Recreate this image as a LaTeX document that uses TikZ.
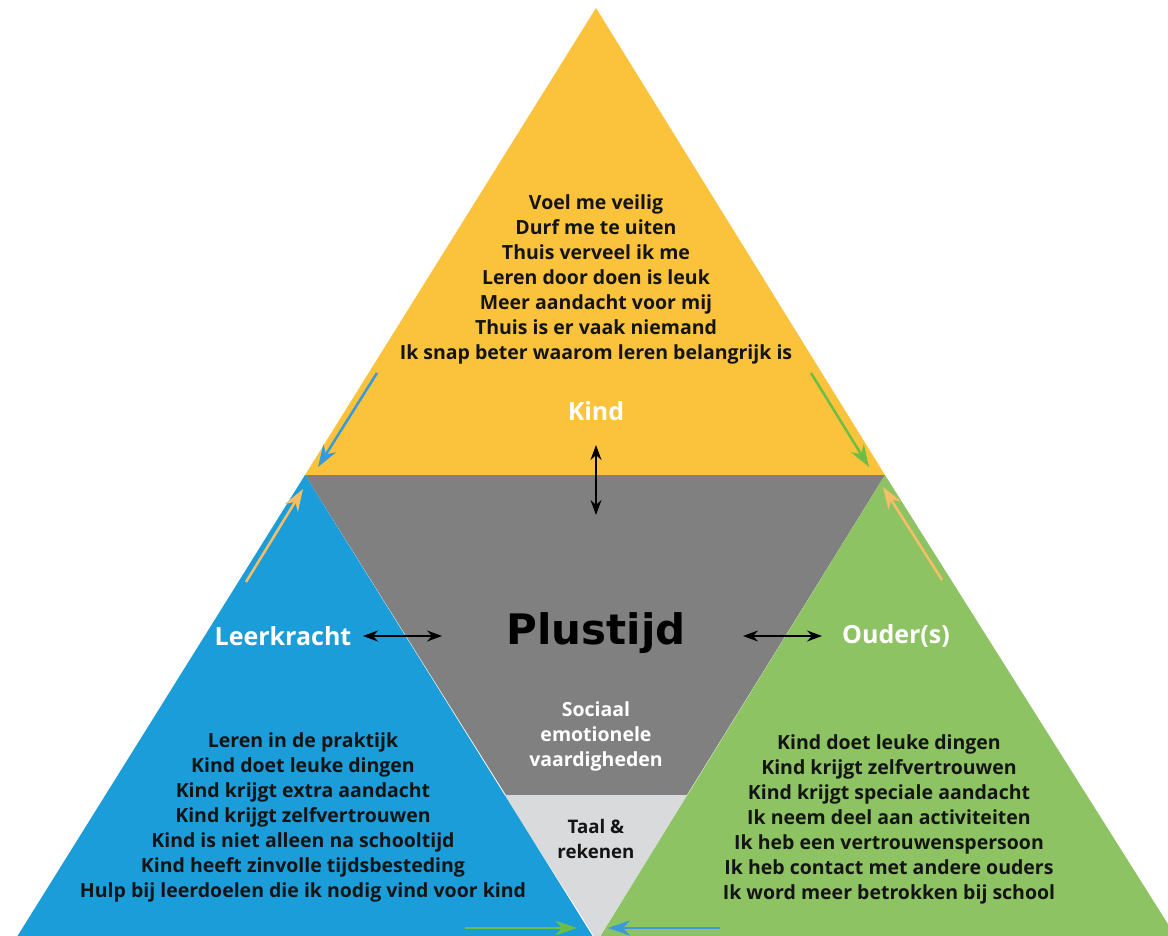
\documentclass[tikz,border=0pt]{standalone}
\usepackage{fontspec}
\setmainfont{Open Sans}
\newfontfamily\plusfont{DejaVu Sans}
\usetikzlibrary{arrows.meta}

\definecolor{kindgeel}{HTML}{FBC33C}
\definecolor{midgrijs}{HTML}{808080}
\definecolor{lichtgrijs}{HTML}{D9DADC}
\definecolor{leerblauw}{HTML}{1B9DD9}
\definecolor{oudergroen}{HTML}{8DC363}
\definecolor{pijlblauw}{HTML}{3A9AD9}
\definecolor{pijlgroen}{HTML}{6DBE45}
\definecolor{pijloranje}{HTML}{F7BE68}
\definecolor{tekst}{HTML}{141414}

\tikzset{
  lijst/.style={align=center, inner sep=0pt, text=tekst,
    font=\bfseries\fontsize{19.5}{25}\selectfont},
  kop/.style={inner sep=0pt, text=white, font=\bfseries\fontsize{25}{28}\selectfont},
  pijl/.style={{Stealth[length=15pt,width=11pt]}-{Stealth[length=15pt,width=11pt]}, line width=1.3pt, black},
  randpijl/.style={-{Stealth[length=22pt,width=15pt,inset=7pt]}, line width=2.5pt},
}

\begin{document}
\begin{tikzpicture}[x=1pt,y=-1pt]
  \useasboundingbox (0,0) rectangle (1168,936);

  % Define the fields
  \fill[kindgeel]   (596,8) -- (305,475) -- (885,475) -- cycle;
  \fill[midgrijs]   (305,475) -- (885,475) -- (597,940) -- cycle;
  \fill[lichtgrijs] (504,795) -- (688,795) -- (597,940) -- cycle;
  \fill[leerblauw]  (305,475) -- (15,940) -- (595,940) -- cycle;
  \fill[oudergroen] (885,475) -- (598,940) -- (1178,940) -- cycle;

  % Define nodes
  \node[lijst] (kindlijst) at (596,279) {Voel me veilig\\Durf me te uiten\\Thuis verveel ik me\\Leren door doen is leuk\\Meer aandacht voor mij\\Thuis is er vaak niemand\\Ik snap beter waarom leren belangrijk is};
  \node[kop] (kind) at (596,411) {Kind};
  \node[kop] (leer) at (283,636) {Leerkracht};
  \node[kop] (ouder) at (896,636) {Ouder(s)};
  \node[inner sep=0pt, text=black, font=\plusfont\bfseries\fontsize{42}{46}\selectfont] (plus) at (596,633) {Plustijd};
  \node[lijst, text=white, font=\bfseries\fontsize{19.5}{25}\selectfont] (sociaal) at (596,736) {Sociaal\\emotionele\\vaardigheden};
  \node[lijst, font=\bfseries\fontsize{18.7}{25}\selectfont] (taal) at (596,839) {Taal \&\\rekenen};
  \node[lijst] (leerlijst) at (303,817) {Leren in de praktijk\\Kind doet leuke dingen\\Kind krijgt extra aandacht\\Kind krijgt zelfvertrouwen\\Kind is niet alleen na schooltijd\\Kind heeft zinvolle tijdsbesteding\\Hulp bij leerdoelen die ik nodig vind voor kind};
  \node[lijst] (ouderlijst) at (889,819) {Kind doet leuke dingen\\Kind krijgt zelfvertrouwen\\Kind krijgt speciale aandacht\\Ik neem deel aan activiteiten\\Ik heb een vertrouwenspersoon\\Ik heb contact met andere ouders\\Ik word meer betrokken bij school};

  % Arrow ends
  \coordinate (kindo) at (596,445);
  \coordinate (kindb) at (596,515);
  \coordinate (leerl) at (363,636);
  \coordinate (leerr) at (442,636);
  \coordinate (ouderl) at (743,636);
  \coordinate (ouderr) at (822,636);
  \coordinate (lb1) at (377,373);
  \coordinate (lb2) at (318,467);
  \coordinate (lo1) at (246,582);
  \coordinate (lo2) at (303,489);
  \coordinate (rg1) at (811,373);
  \coordinate (rg2) at (869,467);
  \coordinate (ro1) at (942,580);
  \coordinate (ro2) at (883,487);
  \coordinate (og1) at (465,928);
  \coordinate (og2) at (577,928);
  \coordinate (ob1) at (720,928);
  \coordinate (ob2) at (608,928);

  % Connect the nodes
  \draw[pijl] (kindo) -- (kindb);
  \draw[pijl] (leerl) -- (leerr);
  \draw[pijl] (ouderl) -- (ouderr);
  \draw[randpijl, pijlblauw]  (lb1) -- (lb2);
  \draw[randpijl, pijloranje] (lo1) -- (lo2);
  \draw[randpijl, pijlgroen]  (rg1) -- (rg2);
  \draw[randpijl, pijloranje] (ro1) -- (ro2);
  \draw[randpijl, pijlgroen]  (og1) -- (og2);
  \draw[randpijl, pijlblauw]  (ob1) -- (ob2);
\end{tikzpicture}
\end{document}
